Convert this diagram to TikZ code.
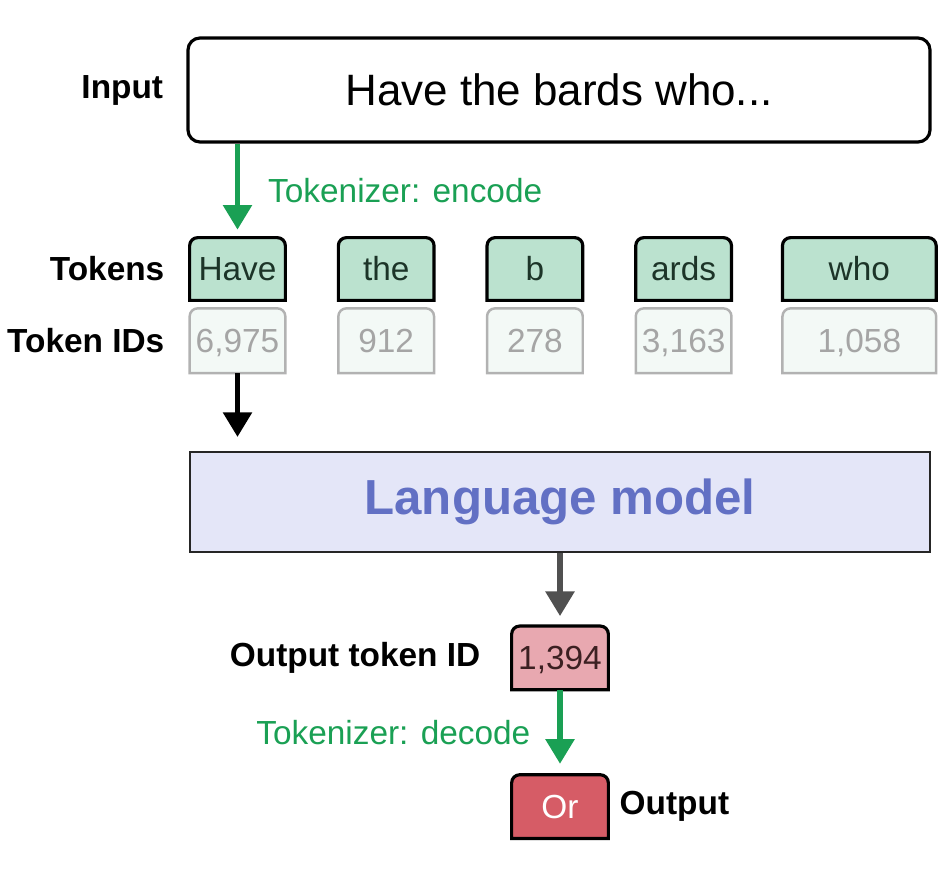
\documentclass[tikz,border=0pt]{standalone}
\usepackage{fontspec}
\setmainfont{Liberation Sans}
\usetikzlibrary{arrows.meta,backgrounds,positioning}

\definecolor{tokgreen}{RGB}{187,226,207}
\definecolor{tokdark}{RGB}{28,52,40}
\definecolor{idfill}{RGB}{243,249,246}
\definecolor{idgray}{RGB}{178,178,178}
\definecolor{idtext}{RGB}{165,165,165}
\definecolor{encgreen}{RGB}{26,160,84}
\definecolor{lmfill}{RGB}{228,230,248}
\definecolor{lmtext}{RGB}{98,112,196}
\definecolor{outpink}{RGB}{232,168,176}
\definecolor{outtext}{RGB}{60,32,34}
\definecolor{outred}{RGB}{214,92,102}
\definecolor{pfeilgray}{RGB}{80,80,80}

% box with rounded top corners only
\newcommand{\kopfbox}[2]{\draw[#2] (#1.south west) -- ([yshift=-1.6mm]#1.north west) arc[start angle=180,end angle=90,radius=1.6mm] -- ([xshift=-1.6mm]#1.north east) arc[start angle=90,end angle=0,radius=1.6mm] -- (#1.south east) -- cycle;}

\begin{document}
\begin{tikzpicture}
  [eingabe/.style={rectangle, minimum width=148.4mm, minimum height=20.8mm, rounded corners=2.4mm, line width=1.8pt, draw=black, fill=white, font=\fontsize{25}{28}\selectfont},
  token/.style={rectangle, minimum width=19mm, minimum height=12.4mm, inner sep=0pt, text height=13.6pt, text depth=0pt, text=tokdark, font=\fontsize{19}{21}\selectfont},
  tokenid/.style={token, minimum height=12.8mm, text=idtext},
  modell/.style={rectangle, minimum width=148mm, minimum height=20mm, line width=1.2pt, draw=black!85, fill=lmfill, text=lmtext, font=\fontsize{28}{32}\selectfont\bfseries},
  rowlabel/.style={inner sep=0pt, font=\fontsize{19}{22}\selectfont\bfseries},
  pfeil/.style={line width=3pt, -{Triangle[width=16pt,length=14pt]}},
  gruen/.style={text=encgreen, inner sep=0pt, font=\fontsize{19}{22}\selectfont}]
  \useasboundingbox (0,0) rectangle (18.92,-17.36);
  \node (inp) [eingabe] at (11.18,-1.8) {Have the bards who...};
  \node (inplab) [rowlabel, left=0.46cm of inp] {Input};
  \node (t1) [token] at (4.75,-5.38) {Have};
  \node (t2) [token, right=1.06cm of t1] {the};
  \node (t3) [token, right=1.06cm of t2] {b};
  \node (t4) [token, right=1.06cm of t3] {ards};
  \node (t5) [token, minimum width=30.6mm, right=1.02cm of t4] {who};
  \node (i1) [tokenid, below=0.16cm of t1] {6,975};
  \node (i2) [tokenid, below=0.16cm of t2] {912};
  \node (i3) [tokenid, below=0.16cm of t3] {278};
  \node (i4) [tokenid, below=0.16cm of t4] {3,163};
  \node (i5) [tokenid, minimum width=30.6mm, below=0.16cm of t5] {1,058};
  \node (toklab) [rowlabel, left=0.5cm of t1] {Tokens};
  \node (idlab) [rowlabel, left=0.5cm of i1] {Token IDs};
  \node (lm) [modell] at (11.2,-10.04) {Language model};
  \node (out) [token, minimum width=19.2mm, minimum height=12.6mm, text=outtext, below=1.46cm of lm] {1,394};
  \node (outlab) [rowlabel, left=0.62cm of out] {Output token ID};
  \node (wort) [token, minimum width=19.2mm, minimum height=12.6mm, text=white, below=1.7cm of out] {Or};
  \node (wortlab) [rowlabel, right=0.22cm of wort] {Output};
  \begin{scope}[on background layer]
    \foreach \i in {1,...,5} {
      \kopfbox{t\i}{line width=1.8pt, draw=black, fill=tokgreen}
      \kopfbox{i\i}{line width=1.4pt, draw=idgray, fill=idfill}
    }
    \kopfbox{out}{line width=1.8pt, draw=black, fill=outpink}
    \kopfbox{wort}{line width=1.8pt, draw=black, fill=outred}
  \end{scope}
  \draw [pfeil, encgreen, shorten >=0.16cm] (inp.south -| t1.north) -- node (enc) [gruen, right=0.56cm] {Tokenizer: encode} (t1.north);
  \draw [pfeil, black, shorten >=0.28cm] (i1.south) -- (i1.south |- lm.north);
  \draw [pfeil, pfeilgray, shorten >=0.2cm] (lm.south -| out.north) -- (out.north);
  \draw [pfeil, encgreen, shorten >=0.22cm] (out.south) -- node (dec) [gruen, left=0.54cm] {Tokenizer: decode} (wort.north);
\end{tikzpicture}
\end{document}
